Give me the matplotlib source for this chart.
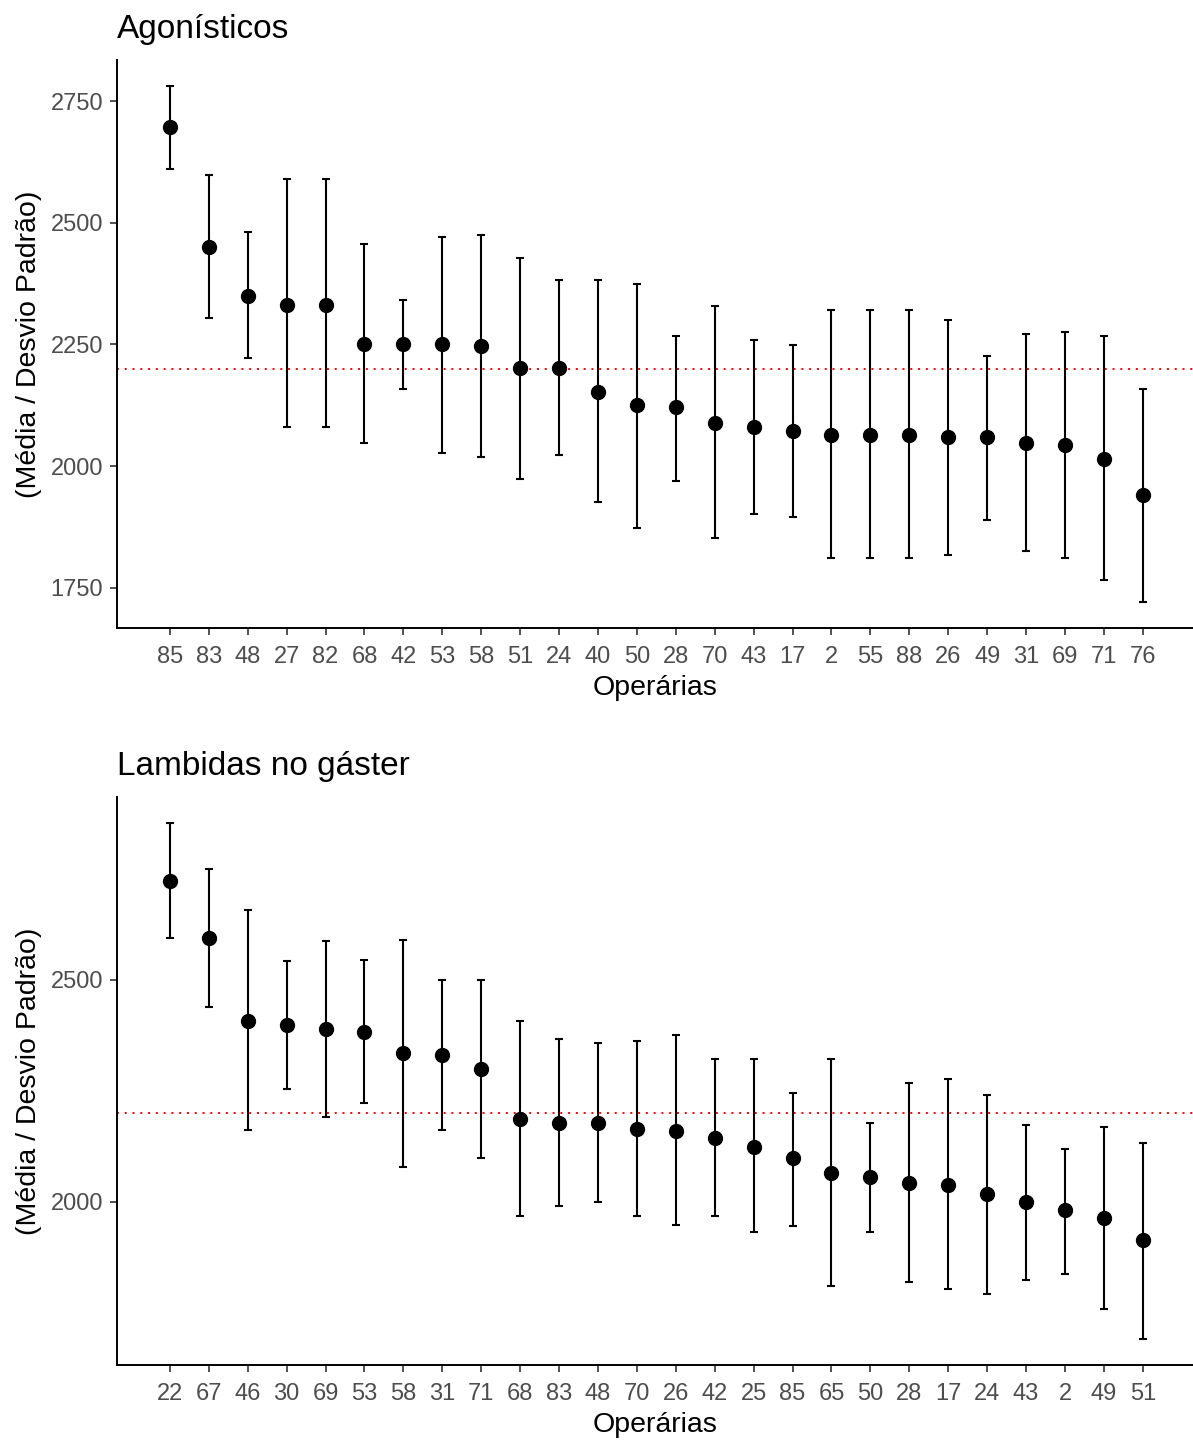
import matplotlib.pyplot as plt
import numpy as np

plt.rcParams['font.family'] = ['Liberation Sans', 'DejaVu Sans']

# Agonísticos
ago_ops = ['85', '83', '48', '27', '82', '68', '42', '53', '58', '51', '24', '40', '50',
           '28', '70', '43', '17', '2', '55', '88', '26', '49', '31', '69', '71', '76']
ago_media = [2697, 2451, 2349, 2332, 2332, 2251, 2251, 2251, 2247, 2202, 2202, 2153, 2125,
             2121, 2088, 2080, 2072, 2063, 2063, 2063, 2060, 2060, 2047, 2043, 2015, 1941]
ago_sup = [2782, 2598, 2481, 2590, 2590, 2456, 2342, 2472, 2476, 2427, 2382, 2382, 2374,
           2268, 2330, 2260, 2248, 2321, 2321, 2321, 2300, 2227, 2272, 2275, 2268, 2158]
ago_inf = [2611, 2304, 2223, 2080, 2080, 2047, 2158, 2027, 2018, 1974, 2023, 1926, 1872,
           1970, 1851, 1901, 1896, 1810, 1810, 1810, 1818, 1888, 1826, 1810, 1765, 1720]

# Lambidas no gáster
lam_ops = ['22', '67', '46', '30', '69', '53', '58', '31', '71', '68', '83', '48', '70',
           '26', '42', '25', '85', '65', '50', '28', '17', '24', '43', '2', '49', '51']
lam_media = [2723, 2594, 2406, 2398, 2388, 2383, 2334, 2330, 2298, 2187, 2178, 2178, 2164,
             2160, 2143, 2124, 2098, 2065, 2057, 2043, 2039, 2017, 1999, 1981, 1963, 1914]
lam_sup = [2853, 2748, 2657, 2541, 2586, 2545, 2590, 2500, 2500, 2406, 2366, 2358, 2362,
           2376, 2321, 2321, 2245, 2321, 2178, 2268, 2277, 2241, 2173, 2120, 2169, 2133]
lam_inf = [2594, 2438, 2161, 2254, 2192, 2223, 2079, 2161, 2098, 1968, 1990, 2000, 1968,
           1949, 1968, 1932, 1945, 1811, 1932, 1820, 1803, 1793, 1824, 1838, 1758, 1691]

referencia = 2200

W, H = 1193, 1441
fig = plt.figure(figsize=(W / 100, H / 100), dpi=100)

paineis = [
    ('Agonísticos', ago_ops, ago_media, ago_sup, ago_inf, [1750, 2000, 2250, 2500, 2750], 628),
    ('Lambidas no gáster', lam_ops, lam_media, lam_sup, lam_inf, [2000, 2500], 1365),
]

for titulo, ops, media, sup, inf, yticks, y_base in paineis:
    ax = fig.add_axes([117 / W, 1 - y_base / H, (W - 117) / W, 568 / H])
    x = np.arange(len(ops))
    media = np.array(media)
    sup = np.array(sup)
    inf = np.array(inf)
    ax.errorbar(x, media, yerr=[media - inf, sup - media], fmt='o', color='black',
                ecolor='black', elinewidth=1.5, capsize=3, capthick=1.5,
                markersize=10, zorder=3)
    ax.axhline(referencia, color='red', linestyle=(0, (1, 3)), linewidth=1.4, zorder=2)

    lo = min(inf.min(), referencia)
    hi = max(sup.max(), referencia)
    pad = (hi - lo) * 0.05
    ax.set_ylim(lo - pad, hi + pad)
    ax.set_xlim(-1.36, len(ops) - 1 + 1.29)

    ax.set_xticks(x)
    ax.set_xticklabels(ops)
    ax.set_yticks(yticks)
    ax.tick_params(axis='both', labelsize=17, labelcolor='#4D4D4D', color='#333333',
                   length=5, width=1.2)
    ax.tick_params(axis='x', pad=8)
    ax.tick_params(axis='y', pad=5)

    for lado in ['top', 'right']:
        ax.spines[lado].set_visible(False)
    for lado in ['left', 'bottom']:
        ax.spines[lado].set_linewidth(1.4)
        ax.spines[lado].set_color('black')

    ax.set_xlabel('Operárias', fontsize=20.5, labelpad=5)
    ax.set_ylabel('(Média / Desvio Padrão)', fontsize=20.5, labelpad=6)
    ax.set_title(titulo, loc='left', fontsize=24, pad=16)

fig.savefig('out.png', dpi=100)
